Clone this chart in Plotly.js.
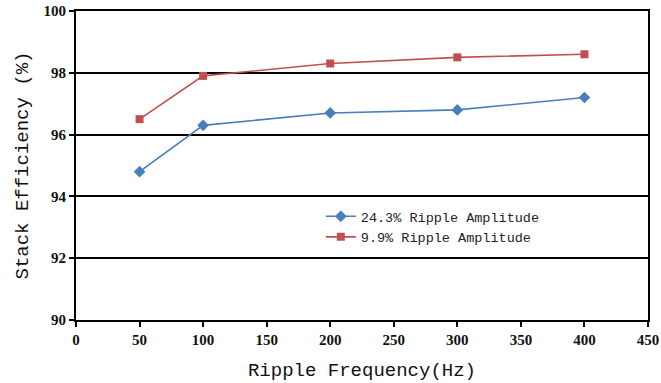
<!DOCTYPE html>
<html><head><meta charset="utf-8">
<script src="https://cdn.plot.ly/plotly-3.0.1.min.js"></script>
<style>body{margin:0}#c{width:661px;height:383px}</style>
</head><body><div id="c"></div>
<script>
const freq = [50, 100, 200, 300, 400];
const amp243 = [94.8, 96.3, 96.7, 96.8, 97.2];
const amp99 = [96.5, 97.9, 98.3, 98.5, 98.6];
const names = ["24.3% Ripple Amplitude", "9.9% Ripple Amplitude"];
const xTicks = [0, 50, 100, 150, 200, 250, 300, 350, 400, 450];
const yTicks = [90, 92, 94, 96, 98, 100];

const mono = "Liberation Mono, DejaVu Sans Mono, monospace";
const serif = "Liberation Serif, DejaVu Serif, serif";
const data = [
  {x: freq, y: amp243, name: names[0], mode: "lines+markers", type: "scatter",
   line: {color: "#4a7ebb", width: 1.6}, marker: {symbol: "diamond", size: 9, color: "#4a7ebb"}},
  {x: freq, y: amp99, name: names[1], mode: "lines+markers", type: "scatter",
   line: {color: "#c0504d", width: 1.6}, marker: {symbol: "square", size: 8, color: "#c0504d"}}
];
const layout = {
  width: 661, height: 383,
  margin: {l: 76, r: 13, t: 11, b: 63},
  paper_bgcolor: "#fff", plot_bgcolor: "#fff",
  showlegend: true,
  legend: {x: 0.428, y: 0.385, xanchor: "left", yanchor: "top", bgcolor: "rgba(0,0,0,0)",
    font: {family: mono, size: 13.5, color: "#222"}, tracegroupgap: 0},
  xaxis: {range: [0, 450], tickvals: xTicks, ticktext: xTicks.map(String),
    showgrid: false, zeroline: false, showline: true, linecolor: "#000", linewidth: 2, mirror: true,
    ticks: "outside", ticklen: 5, tickwidth: 2, tickcolor: "#000", ticklabeloverflow: "allow",
    tickfont: {family: serif, size: 15, color: "#111", weight: "bold"},
    title: {text: "Ripple Frequency(Hz)", font: {family: mono, size: 19, color: "#111"}, standoff: 16}},
  yaxis: {range: [90, 100], tickvals: yTicks, ticktext: yTicks.map(String),
    showgrid: true, gridcolor: "#000", gridwidth: 1.5, zeroline: false,
    showline: true, linecolor: "#000", linewidth: 2, mirror: true,
    ticks: "outside", ticklen: 5, tickwidth: 2, tickcolor: "#000",
    tickfont: {family: serif, size: 15, color: "#111", weight: "bold"},
    title: {text: "Stack Efficiency (%)", font: {family: mono, size: 19, color: "#111"}, standoff: 10}}
};
Plotly.newPlot("c", data, layout, {displayModeBar: false});
</script></body></html>
